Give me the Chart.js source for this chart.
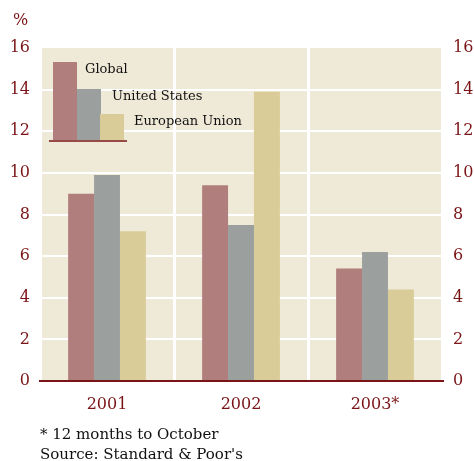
<!DOCTYPE html>
<html>
<head>
<meta charset="utf-8">
<script src="https://cdn.jsdelivr.net/npm/chart.js@4"></script>
<style>
  body { margin: 0; background: #fff; }
  #wrap { position: relative; width: 474px; height: 461px; }
  .txt { position: absolute; font-family: "DejaVu Serif", serif; white-space: nowrap; }
  #pct { left: 13px; top: 10px; font-size: 16px; color: #7b1416; }
  #note { left: 40px; top: 424px; font-size: 15px; color: #111; line-height: 20px; }
</style>
</head>
<body>
<div id="wrap">
  <canvas id="c" width="474" height="461"></canvas>
  <div class="txt" id="pct">%</div>
  <div class="txt" id="note">* 12 months to October<br>Source: Standard &amp; Poor's</div>
</div>
<script>
// дані
const years = ['2001', '2002', '2003*'];
const seriesNames = ['Global', 'United States', 'European Union'];
const globalVals = [9.0, 9.4, 5.4];
const usVals = [9.9, 7.5, 6.2];
const euVals = [7.2, 13.9, 4.4];
const yTicks = [0, 2, 4, 6, 8, 10, 12, 14, 16];

const colors = ['#b07f7d', '#9ba09e', '#d9cc98'];
const red = '#7b1416';
const serif = '"DejaVu Serif", serif';

// фон області графіка
const bgPlugin = {
    id: 'bg',
    beforeDraw(chart) {
        const a = chart.chartArea, ctx = chart.ctx;
        ctx.save();
        ctx.fillStyle = '#efe9d7';
        ctx.fillRect(a.left, a.top, a.right - a.left, a.bottom - a.top);
        ctx.restore();
    }
};

// легенда всередині графіка
const legendPlugin = {
    id: 'miniLegend',
    afterDatasetsDraw(chart) {
        const ctx = chart.ctx;
        const tops = [62, 89, 114];
        const xs = [53, 77, 100];
        const textPos = [[85, 70], [112, 97], [134, 122]];
        ctx.save();
        for (let i = 0; i < 3; i++) {
            ctx.fillStyle = colors[i];
            ctx.fillRect(xs[i], tops[i], 24, 140 - tops[i]);
        }
        ctx.strokeStyle = red;
        ctx.lineWidth = 1.5;
        ctx.beginPath();
        ctx.moveTo(49, 141);
        ctx.lineTo(127, 141);
        ctx.stroke();
        ctx.fillStyle = '#111';
        ctx.font = '13px ' + serif;
        ctx.textBaseline = 'middle';
        seriesNames.forEach((n, i) => ctx.fillText(n, textPos[i][0], textPos[i][1]));
        ctx.restore();
    }
};

const yAxis = (pos) => ({
    type: 'linear',
    position: pos,
    min: 0, max: 16,
    afterBuildTicks: s => { s.ticks = yTicks.map(v => ({ value: v })); },
    afterFit: s => { s.width = pos === 'left' ? 40 : 32; },
    border: { display: false },
    grid: {
        display: pos === 'left',
        drawTicks: false,
        lineWidth: 2,
        color: c => (c.tick.value === 0 || c.tick.value === 16) ? 'rgba(0,0,0,0)' : '#ffffff'
    },
    ticks: {
        padding: pos === 'left' ? 10 : 11,
        color: red,
        font: { family: serif, size: 16 },
        align: 'center'
    }
});

new Chart(document.getElementById('c'), {
    type: 'bar',
    data: {
        labels: years,
        datasets: [
            { label: seriesNames[0], data: globalVals, backgroundColor: colors[0] },
            { label: seriesNames[1], data: usVals, backgroundColor: colors[1] },
            { label: seriesNames[2], data: euVals, backgroundColor: colors[2] }
        ]
    },
    options: {
        responsive: false,
        animation: false,
        layout: { padding: { top: 48, left: 0, right: 0, bottom: 0 } },
        datasets: { bar: { barPercentage: 1, categoryPercentage: 0.58 } },
        plugins: { legend: { display: false }, tooltip: { enabled: false } },
        scales: {
            x: {
                afterFit: s => { s.height = 80; },
                border: { display: true, color: red, width: 2 },
                grid: { color: '#ffffff', lineWidth: 3, drawTicks: false },
                ticks: { padding: 14, color: red, font: { family: serif, size: 16 } }
            },
            y: yAxis('left'),
            y2: yAxis('right')
        }
    },
    plugins: [bgPlugin, legendPlugin]
});
</script>
</body>
</html>
